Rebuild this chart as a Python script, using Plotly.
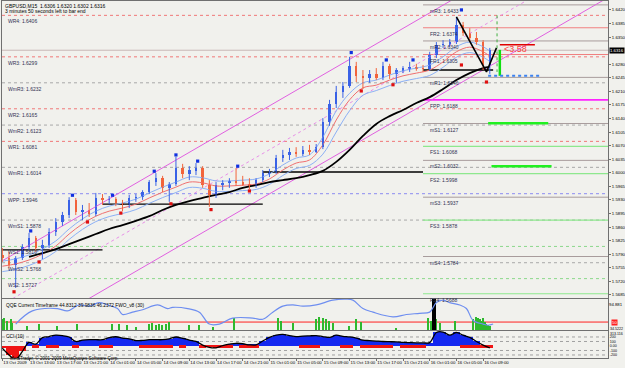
import pandas as pd
import plotly.graph_objects as go
from plotly.subplots import make_subplots

FONT = "Liberation Sans"

# ---------------- price data (hourly candles) ----------------
bar_times = pd.date_range("2009-10-13 09:00", periods=74, freq="h")
opens = [1.5788,1.5780,1.5762,1.5780,1.5808,1.5832,1.5806,1.5814,1.5847,1.5873,
         1.5891,1.5930,1.5899,1.5904,1.5894,1.5935,1.5930,1.5932,1.5922,1.5917,
         1.5935,1.5937,1.5950,1.5976,1.5986,1.5961,1.5971,1.6012,1.5997,1.6007,
         1.6012,1.5968,1.5943,1.5968,1.5974,1.5979,1.5976,1.5971,1.5966,1.5981,
         1.5999,1.6002,1.6038,1.6046,1.6054,1.6048,1.6059,1.6054,1.6066,1.6131,
         1.6177,1.6208,1.6224,1.6275,1.6250,1.6244,1.6255,1.6244,1.6275,1.6255,
         1.6265,1.6270,1.6273,1.6270,1.6268,1.6304,1.6330,1.6332,1.6337,1.6381,
         1.6361,1.6348,1.6337,1.6278]
highs = [1.5806,1.5796,1.5785,1.5816,1.5845,1.5837,1.5827,1.5857,1.5883,1.5899,
         1.5937,1.5935,1.5917,1.5922,1.5948,1.5945,1.5940,1.5937,1.5930,1.5943,
         1.5945,1.5955,1.5981,1.5999,1.5992,1.5976,1.6041,1.6023,1.6017,1.6025,
         1.6017,1.5981,1.5976,1.5981,1.5986,1.6012,1.5992,1.5986,1.5986,1.6007,
         1.6010,1.6046,1.6059,1.6064,1.6066,1.6069,1.6072,1.6074,1.6141,1.6188,
         1.6224,1.6234,1.6299,1.6286,1.6265,1.6265,1.6270,1.6286,1.6281,1.6270,
         1.6275,1.6286,1.6281,1.6278,1.6312,1.6337,1.6342,1.6345,1.6402,1.6389,
         1.6373,1.6363,1.6342,1.6322]
lows = [1.5770,1.5754,1.5703,1.5775,1.5801,1.5796,1.5777,1.5806,1.5837,1.5863,
        1.5883,1.5891,1.5878,1.5886,1.5888,1.5917,1.5919,1.5914,1.5901,1.5909,
        1.5925,1.5930,1.5945,1.5966,1.5950,1.5925,1.5966,1.5986,1.5981,1.5994,
        1.5961,1.5912,1.5935,1.5955,1.5961,1.5966,1.5966,1.5958,1.5961,1.5976,
        1.5989,1.5997,1.6028,1.6033,1.6041,1.6043,1.6046,1.6051,1.6061,1.6121,
        1.6167,1.6193,1.6219,1.6234,1.6216,1.6232,1.6239,1.6239,1.6242,1.6232,
        1.6257,1.6260,1.6263,1.6260,1.6263,1.6296,1.6322,1.6324,1.6332,1.6353,
        1.6337,1.6330,1.6265,1.6255]
closes = [1.5780,1.5762,1.5780,1.5808,1.5832,1.5806,1.5814,1.5847,1.5873,1.5891,
          1.5930,1.5899,1.5904,1.5894,1.5935,1.5930,1.5932,1.5922,1.5917,1.5935,
          1.5937,1.5950,1.5976,1.5986,1.5961,1.5971,1.6012,1.5997,1.6007,1.6012,
          1.5968,1.5943,1.5968,1.5974,1.5979,1.5976,1.5971,1.5966,1.5981,1.5999,
          1.6002,1.6038,1.6046,1.6054,1.6048,1.6059,1.6054,1.6066,1.6131,1.6177,
          1.6208,1.6224,1.6275,1.6250,1.6244,1.6255,1.6244,1.6275,1.6255,1.6265,
          1.6270,1.6273,1.6270,1.6268,1.6304,1.6330,1.6332,1.6337,1.6381,1.6361,
          1.6348,1.6337,1.6278,1.6316]

# moving averages (every 2 hours)
ma_times = list(pd.date_range("2009-10-13 09:00", "2009-10-16 09:00", freq="2h")) + [pd.Timestamp("2009-10-16 10:00")]
ma_red = [1.5759,1.5765,1.5775,1.5790,1.5811,1.5842,1.5868,1.5888,1.5901,1.5909,
          1.5919,1.5935,1.5950,1.5963,1.5976,1.5974,1.5966,1.5966,1.5968,1.5971,
          1.5984,1.6007,1.6025,1.6033,1.6072,1.6136,1.6188,1.6219,1.6226,1.6239,
          1.6250,1.6257,1.6265,1.6286,1.6312,1.6324,1.6312,1.6301]
ma_blue_up = [1.5772,1.5778,1.5788,1.5803,1.5824,1.5855,1.5881,1.5901,1.5914,1.5922,
              1.5932,1.5948,1.5963,1.5976,1.5989,1.5987,1.5979,1.5979,1.5981,1.5984,
              1.5997,1.6020,1.6038,1.6046,1.6092,1.6160,1.6205,1.6232,1.6239,1.6252,
              1.6263,1.6270,1.6278,1.6299,1.6325,1.6337,1.6325,1.6314]
ma_blue_lo = [1.5745,1.5751,1.5761,1.5776,1.5797,1.5828,1.5854,1.5874,1.5887,1.5895,
              1.5905,1.5921,1.5936,1.5949,1.5962,1.5960,1.5952,1.5952,1.5954,1.5957,
              1.5970,1.5993,1.6011,1.6019,1.6048,1.6105,1.6160,1.6200,1.6212,1.6225,
              1.6236,1.6243,1.6251,1.6272,1.6298,1.6310,1.6298,1.6287]
ma_black_times = list(pd.date_range("2009-10-13 13:00", "2009-10-16 09:00", freq="2h")) + [pd.Timestamp("2009-10-16 10:00")]
ma_black = [1.5783,1.5793,1.5803,1.5816,1.5829,1.5842,1.5855,1.5865,1.5876,1.5888,
            1.5904,1.5917,1.5927,1.5935,1.5943,1.5950,1.5961,1.5968,1.5976,1.5981,
            1.5986,1.5994,1.6005,1.6028,1.6059,1.6095,1.6126,1.6146,1.6162,1.6180,
            1.6195,1.6216,1.6239,1.6257,1.6270,1.6273]

# fractals
up_frac_times = ["2009-10-13 13:15","2009-10-13 19:30","2009-10-14 01:30","2009-10-14 07:45",
                 "2009-10-14 11:00","2009-10-14 14:15","2009-10-14 20:15","2009-10-15 13:15",
                 "2009-10-15 18:30","2009-10-15 22:30","2009-10-16 05:45"]
up_frac_vals = [1.5850,1.5942,1.5942,1.6004,1.6046,1.6030,1.6017,1.6310,1.6291,1.6291,1.6420]
dn_frac_times = ["2009-10-13 10:45","2009-10-13 14:30","2009-10-13 21:45","2009-10-14 02:45",
                 "2009-10-14 10:15","2009-10-14 16:15","2009-10-14 22:00","2009-10-15 14:45",
                 "2009-10-15 19:30","2009-10-16 05:45","2009-10-16 09:30"]
dn_frac_vals = [1.5693,1.5770,1.5873,1.5896,1.5920,1.5905,1.5953,1.6211,1.6227,1.6278,1.6234]

# pivot levels
weekly_names = ["WR4","WR3","WmR3","WR2","WmR2","WR1","WmR1","WPP","WmS1","WS1","WmS2","WS2"]
weekly_vals = [1.6406,1.6299,1.6232,1.6165,1.6123,1.6081,1.6014,1.5946,1.5878,1.5810,1.5768,1.5727]
daily_names = ["mR3","FR2","mR2","FR1","mR1","FPP","mS1","FS1","mS2","FS2","mS3","FS3","mS4","FS4"]
daily_vals = [1.6433,1.6374,1.6340,1.6305,1.6246,1.6188,1.6127,1.6068,1.6032,1.5998,1.5937,1.5878,1.5784,1.5688]
day_start = "2009-10-16 00:00"

# previous-day level steps
step_starts = ["2009-10-13 08:57","2009-10-14 00:00","2009-10-15 00:00","2009-10-16 00:00"]
step_ends = ["2009-10-14 00:00","2009-10-15 00:00","2009-10-16 00:00","2009-10-16 10:30"]
step_vals = [1.5801,1.5919,1.6002,1.6265]

# regression channel
chan_times = ["2009-10-13 09:00","2009-10-17 03:00"]
chan_upper = [1.5773,1.6672]
chan_mid = [1.5660,1.6559]
chan_lower = [1.5546,1.6445]

# zigzag & tools
zz_times = ["2009-10-16 05:00","2009-10-16 09:30","2009-10-16 11:00"]
zz_vals = [1.6402,1.6260,1.6322]
current_price = 1.6316

# QQE panel
qqe_times = ["2009-10-13 11:00","2009-10-13 13:30","2009-10-13 17:15","2009-10-13 18:45","2009-10-13 20:30",
             "2009-10-13 22:00","2009-10-13 23:30","2009-10-14 00:45","2009-10-14 02:15","2009-10-14 03:00",
             "2009-10-14 04:30","2009-10-14 06:00","2009-10-14 08:15","2009-10-14 09:45","2009-10-14 10:30",
             "2009-10-14 12:45","2009-10-14 14:30","2009-10-14 16:00","2009-10-14 17:30","2009-10-14 19:30",
             "2009-10-14 22:30","2009-10-15 00:00","2009-10-15 01:30","2009-10-15 03:00","2009-10-15 04:30",
             "2009-10-15 06:00","2009-10-15 08:00","2009-10-15 10:30","2009-10-15 12:30","2009-10-15 13:30",
             "2009-10-15 15:00","2009-10-15 16:30","2009-10-15 19:30","2009-10-15 21:30","2009-10-15 23:30",
             "2009-10-16 01:00","2009-10-16 02:00","2009-10-16 03:00","2009-10-16 04:00","2009-10-16 05:30",
             "2009-10-16 06:30","2009-10-16 07:30","2009-10-16 09:00","2009-10-16 09:45","2009-10-16 10:30"]
qqe_vals = [46.1,71.7,76.3,71.7,83.3,81.0,87.9,83.3,76.3,64.7,
            69.3,74.0,83.3,76.3,78.6,76.3,69.3,46.1,46.1,57.7,
            57.7,55.4,69.3,81.0,83.3,81.0,83.3,92.6,94.5,92.6,
            76.3,69.3,60.1,64.7,67.0,69.3,87.9,92.6,87.9,83.3,
            76.3,53.1,46.1,43.8,46.1]
green_times = ["2009-10-13 09:00","2009-10-13 09:15","2009-10-13 09:45","2009-10-13 10:15","2009-10-13 10:30",
               "2009-10-13 12:45","2009-10-13 14:30","2009-10-13 17:15","2009-10-13 20:15",
               "2009-10-14 01:30","2009-10-14 02:30","2009-10-14 03:45","2009-10-14 05:00",
               "2009-10-14 07:00","2009-10-14 07:30","2009-10-14 08:00","2009-10-14 08:30","2009-10-14 09:00",
               "2009-10-14 09:30","2009-10-14 10:00","2009-10-14 13:00","2009-10-14 14:30","2009-10-14 16:30",
               "2009-10-14 19:45","2009-10-15 02:15","2009-10-15 02:45","2009-10-15 04:30",
               "2009-10-15 08:00","2009-10-15 08:30","2009-10-15 09:00","2009-10-15 09:30","2009-10-15 10:00",
               "2009-10-15 10:30","2009-10-15 13:00","2009-10-15 14:00","2009-10-15 14:45","2009-10-15 20:00",
               "2009-10-16 00:45","2009-10-16 01:15","2009-10-16 02:00","2009-10-16 02:30","2009-10-16 04:45",
               "2009-10-16 07:30","2009-10-16 08:00","2009-10-16 08:15","2009-10-16 08:30","2009-10-16 08:45",
               "2009-10-16 09:00","2009-10-16 09:15","2009-10-16 09:30","2009-10-16 09:45","2009-10-16 10:00"]
green_vals = [55,57,52,56,48, 42,46,43,46, 46,46,45,41, 46,48,45,47,44, 46,50,44,45,40,
              57,57,52,48, 55,60,58,55,52, 48,42,55,50,38, 58,52,55,48,52,
              55,60,57,55,52, 58,50,47,44,42]
spike_times = ["2009-10-16 01:30","2009-10-16 01:45"]
spike_vals = [94.9,98.0]
qqe_min, qqe_max, qqe_level = 34.5222, 94.881, 50

# CCI panel (hourly)
cci_vals = [-50,-200,-300,-120,80,40,185,210,240,230,
            200,100,130,140,140,140,185,205,175,160,
            120,125,140,140,140,160,200,170,130,100,
            20,-30,-40,10,40,60,50,25,25,110,
            190,240,256,230,210,220,225,230,210,190,
            240,215,200,175,130,120,110,100,95,90,
            80,75,70,70,75,300,310,240,300,240,
            190,100,20,-40]
cci_red_idx = [5,7,8,11,15,16,21,22,23,24,25,27,30,33,34,36,37,38,45,46,47,
               51,52,54,55,56,57,58,60,61,62,63,69,70,71,72]
cci_red_depth = -40

x_ticks = pd.date_range("2009-10-13 09:00", "2009-10-16 09:00", freq="4h")
price_ticks = [1.6420,1.6385,1.6350,1.6280,1.6245,1.6210,1.6175,1.6140,1.6105,1.6070,
               1.6035,1.6000,1.5965,1.5930,1.5895,1.5860,1.5825,1.5790,1.5755,1.5720,1.5685]
cci_ticks = [200,100,0,-100,-200]
cci_tick_text = ["200","100","0.00","-100","-200"]

# ---------------- figure ----------------
UP = "#3A62E6"
DN = "#F2643C"
BG = "#F1F1ED"
X_RANGE = ["2009-10-13 08:57", "2009-10-17 03:42"]
TF = 4.3
CF = 3.6

fig = make_subplots(rows=3, cols=1, shared_xaxes=True, vertical_spacing=0.01)

# channel lines
fig.add_trace(go.Scatter(x=chan_times, y=chan_upper, mode="lines",
                         line=dict(color="#E060E0", width=1)), row=1, col=1)
fig.add_trace(go.Scatter(x=chan_times, y=chan_mid, mode="lines",
                         line=dict(color="#E890E8", width=1, dash="dot")), row=1, col=1)
fig.add_trace(go.Scatter(x=chan_times, y=chan_lower, mode="lines",
                         line=dict(color="#E060E0", width=1)), row=1, col=1)

# previous-day steps
for s, e, v in zip(step_starts, step_ends, step_vals):
    fig.add_trace(go.Scatter(x=[s, e], y=[v, v], mode="lines",
                             line=dict(color="#000000", width=1.3)), row=1, col=1)

# MAs
fig.add_trace(go.Scatter(x=ma_times, y=ma_blue_up, mode="lines", line=dict(color="#8CB0F5", width=1, shape="spline")), row=1, col=1)
fig.add_trace(go.Scatter(x=ma_times, y=ma_blue_lo, mode="lines", line=dict(color="#8CB0F5", width=1, shape="spline")), row=1, col=1)
fig.add_trace(go.Scatter(x=ma_times, y=ma_red, mode="lines", line=dict(color="#F07070", width=1, shape="spline")), row=1, col=1)
fig.add_trace(go.Scatter(x=ma_black_times, y=ma_black, mode="lines", line=dict(color="#000000", width=1.8, shape="spline")), row=1, col=1)

# candles: wicks + thin bodies
for up in (True, False):
    idx = [i for i in range(len(opens)) if (closes[i] >= opens[i]) == up]
    col = UP if up else DN
    wx, wy = [], []
    for i in idx:
        wx += [bar_times[i], bar_times[i], None]
        wy += [lows[i], highs[i], None]
    fig.add_trace(go.Scatter(x=wx, y=wy, mode="lines", line=dict(color=col, width=1)), row=1, col=1)
    fig.add_trace(go.Bar(x=[bar_times[i] for i in idx],
                         y=[max(abs(closes[i] - opens[i]), 0.00012) for i in idx],
                         base=[min(opens[i], closes[i]) for i in idx],
                         width=22 * 60 * 1000, marker=dict(color=col, line=dict(width=0))), row=1, col=1)

# fractals
fig.add_trace(go.Scatter(x=up_frac_times, y=up_frac_vals, mode="markers",
                         marker=dict(color="#1030E0", size=3.2, symbol="square")), row=1, col=1)
fig.add_trace(go.Scatter(x=dn_frac_times, y=dn_frac_vals, mode="markers",
                         marker=dict(color="#E01010", size=3.2, symbol="square")), row=1, col=1)

# zigzag
fig.add_trace(go.Scatter(x=zz_times, y=zz_vals, mode="lines", line=dict(color="#000000", width=1.6)), row=1, col=1)

# tool marks at the right of the price
fig.add_trace(go.Scatter(x=["2009-10-16 11:05", "2009-10-16 11:05"], y=[1.6406, 1.6260], mode="lines",
                         line=dict(color="#40B040", width=1, dash="dot")), row=1, col=1)
fig.add_trace(go.Scatter(x=["2009-10-16 11:30", "2009-10-16 11:30"], y=[1.6317, 1.6250], mode="lines",
                         line=dict(color="#10E010", width=2.5)), row=1, col=1)
fig.add_trace(go.Scatter(x=["2009-10-16 11:30", "2009-10-16 16:45"], y=[1.6330, 1.6330], mode="lines",
                         line=dict(color="#E00000", width=1.5)), row=1, col=1)
fig.add_trace(go.Scatter(x=["2009-10-16 09:45", "2009-10-16 17:45"], y=[1.6250, 1.6250], mode="lines",
                         line=dict(color="#3C82F0", width=2, dash="dot")), row=1, col=1)
fig.add_trace(go.Scatter(x=["2009-10-16 09:45", "2009-10-16 18:45"], y=[1.6128, 1.6128], mode="lines",
                         line=dict(color="#20F020", width=2.5)), row=1, col=1)
fig.add_trace(go.Scatter(x=["2009-10-16 10:15", "2009-10-16 19:15"], y=[1.6017, 1.6017], mode="lines",
                         line=dict(color="#20F020", width=2.5)), row=1, col=1)

# QQE panel
fig.add_trace(go.Bar(x=green_times, y=[v - qqe_min for v in green_vals], base=qqe_min,
                     width=12 * 60 * 1000, marker=dict(color="#2EB82E", line=dict(width=0))), row=2, col=1)
fig.add_trace(go.Bar(x=spike_times, y=[v - qqe_min for v in spike_vals], base=qqe_min,
                     width=8 * 60 * 1000, marker=dict(color="#000000", line=dict(width=0))), row=2, col=1)
fig.add_trace(go.Scatter(x=qqe_times, y=qqe_vals, mode="lines",
                         line=dict(color="#6E8EF0", width=1.2, shape="spline")), row=2, col=1)

# CCI panel
fig.add_trace(go.Bar(x=bar_times, y=cci_vals, width=3600 * 1000,
                     marker=dict(color=["#1428F0" if v >= 0 else "#F01414" for v in cci_vals], line=dict(width=0))),
              row=3, col=1)
fig.add_trace(go.Bar(x=[bar_times[i] for i in cci_red_idx], y=[cci_red_depth] * len(cci_red_idx), width=3600 * 1000,
                     marker=dict(color="#F01414", line=dict(width=0))), row=3, col=1)
fig.add_trace(go.Scatter(x=bar_times, y=cci_vals, mode="lines",
                         line=dict(color="#000000", width=1.3, shape="spline")), row=3, col=1)

# ---------------- shapes ----------------
shapes = []
def hline(y, yref, color, dash="solid", width=1, x0=0, x1=1, xref="x domain"):
    shapes.append(dict(type="line", xref=xref, yref=yref, x0=x0, x1=x1, y0=y, y1=y,
                       line=dict(color=color, width=width, dash=dash), layer="below"))

for n, v in zip(weekly_names, weekly_vals):
    if "m" in n:
        c = "#A8A8A8"
    elif "PP" in n:
        c = "#8C8CF0"
    elif "R" in n:
        c = "#F07878"
    else:
        c = "#8CD88C"
    hline(v, "y", c, dash="dot")
for n, v in zip(daily_names, daily_vals):
    if n.startswith("m"):
        c, w = "#A89C9C", 1
    elif "PP" in n:
        c, w = "#FF22FF", 1.6
    elif "R" in n:
        c, w = "#F08080", 1.2
    else:
        c, w = "#8EE88E", 1.2
    hline(v, "y", c, width=w, x0=day_start, x1=X_RANGE[1], xref="x")
hline(current_price, "y", "#C8B8B8")
hline(qqe_level, "y2", "#FF2020", width=1)
for v in [200, 100, -100, -200]:
    hline(v, "y3", "#A0A0A0", dash="dot")

# ---------------- annotations ----------------
ann = []
def text(x, y, s, xref, yref, size=5, color="#303050", xanchor="left", yanchor="top", **kw):
    ann.append(dict(x=x, y=y, xref=xref, yref=yref, text=s, showarrow=False,
                    font=dict(family=FONT, size=size, color=color),
                    xanchor=xanchor, yanchor=yanchor, **kw))

text(3 / 625, 1 - 1 / 368, "GBPUSD,M15  1.6306 1.6320 1.6302 1.6316", "paper", "paper", size=5, color="#000000")
text(3 / 625, 1 - 6 / 368, "3 minutes 50 seconds left to bar end", "paper", "paper", size=5, color="#000000")
for n, v in zip(weekly_names, weekly_vals):
    text(6 / 625, v, f"{n}: {v:.4f}", "paper", "y", yshift=-1)
for n, v in zip(daily_names, daily_vals):
    text("2009-10-16 00:45", v, f"{n}: {v:.4f}", "x", "y", yshift=-1)
text("2009-10-16 11:50", 1.6318, "<3.58", "x", "y", size=9, color="#FF3C3C", yanchor="middle")
text(0.9745, current_price, f"{current_price:.4f}", "paper", "y", size=TF, color="#FFFFFF",
     yanchor="middle", bgcolor="#000000", borderpad=0)
text(0.9775, qqe_level, "50", "paper", "y2", size=TF, color="#FFFFFF", yanchor="middle",
     bgcolor="#FF2020", borderpad=0)
# panel scale labels (max / min of the sub-windows)
text(1.0, 1 - 300 / 368, "94.881", "paper", "paper", size=TF, color="#000000", xanchor="right")
text(1.0, 1 - 324.5 / 368, "34.5222", "paper", "paper", size=CF, color="#000000", xanchor="right")
text(1.0, 1 - 329.5 / 368, "313.116", "paper", "paper", size=CF, color="#000000", xanchor="right")
text(4 / 625, 1 - 301 / 368, "QQE Current Timeframe 44.8312 39.9836 46.2372 FWO_v8 (30)", "paper", "paper",
     size=4.8, color="#000000")
text(4 / 625, 1 - 332 / 368, "CCI (10)", "paper", "paper", size=4.8, color="#000000")
text(8 / 625, 1 - 352.5 / 368, "MetaTrader, © 2001-2009 MetaQuotes Software Corp.", "paper", "paper",
     size=4.5, color="#000000")

# ---------------- layout ----------------
XD = [2 / 625, 608 / 625]
axis_common = dict(showgrid=False, zeroline=False, showline=True, mirror=True, automargin=False,
                   linecolor="#707070", linewidth=1)
fig.update_layout(
    width=625, height=368, margin=dict(l=0, r=0, t=0, b=0, autoexpand=False),
    paper_bgcolor=BG, plot_bgcolor=BG, showlegend=False, barmode="overlay", bargap=0,
    font=dict(family=FONT, size=5, color="#000000"),
    shapes=shapes, annotations=ann,
    xaxis=dict(domain=XD, range=X_RANGE, showticklabels=False, ticks="", rangeslider=dict(visible=False), **axis_common),
    xaxis2=dict(domain=XD, range=X_RANGE, showticklabels=False, ticks="", **axis_common),
    xaxis3=dict(domain=XD, range=X_RANGE, tickvals=list(x_ticks),
                ticktext=["13 Oct 2009"] + [t.strftime("%d Oct %H:%M").lstrip() for t in x_ticks[1:]],
                ticklabelposition="outside right", tickangle=0, ticks="outside", ticklen=2, tickcolor="#707070",
                tickfont=dict(size=TF, family=FONT), **axis_common),
    yaxis=dict(domain=[1 - 298 / 368, 1 - 1 / 368], range=[1.5677, 1.6443], side="right",
               tickvals=price_ticks, ticktext=[f"{v:.4f}" for v in price_ticks],
               ticks="outside", ticklen=2, tickcolor="#707070", tickfont=dict(size=TF, family=FONT), **axis_common),
    yaxis2=dict(domain=[1 - 330 / 368, 1 - 299 / 368], range=[qqe_min, qqe_max], side="right",
                showticklabels=False, ticks="", **axis_common),
    yaxis3=dict(domain=[1 - 358 / 368, 1 - 331 / 368], range=[-267, 333], side="right",
                tickvals=cci_ticks, ticktext=cci_tick_text,
                ticks="", tickfont=dict(size=CF, family=FONT), **axis_common),
)

fig.write_html("out.html")
